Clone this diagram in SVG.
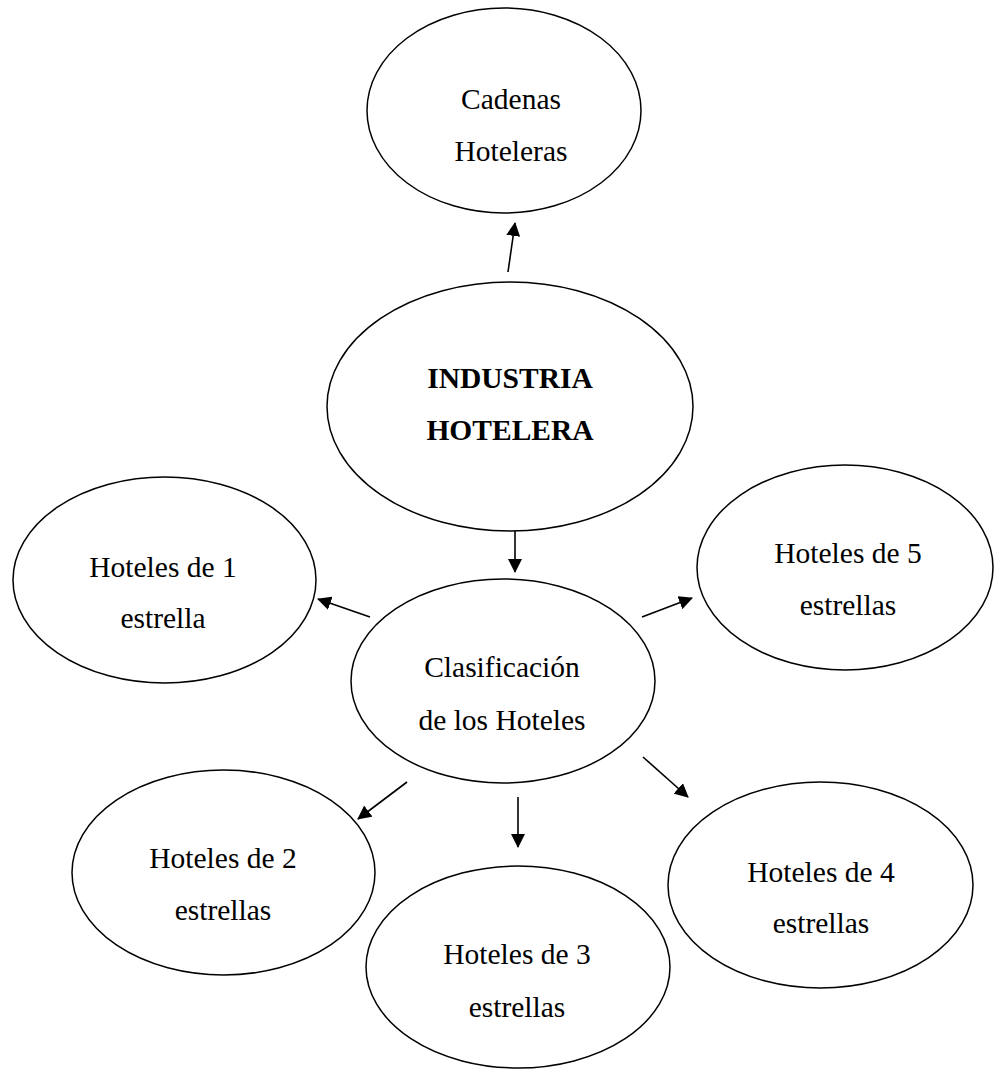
<svg xmlns="http://www.w3.org/2000/svg" width="995" height="1070" viewBox="0 0 995 1070">
  <defs>
    <marker id="arrow" markerUnits="userSpaceOnUse" markerWidth="14" markerHeight="14" refX="13" refY="7" orient="auto">
      <path d="M0,0 L14,7 L0,14 z" fill="#000"/>
    </marker>
    <style>
      .node ellipse { fill: #fff; stroke: #000; stroke-width: 1.5; }
      .node text { font-family: "Liberation Serif", "Times New Roman", serif; font-size: 29.5px; fill: #000; text-anchor: middle; }
      .node text.bold { font-weight: bold; }
      .edges line { stroke: #000; stroke-width: 1.6; marker-end: url(#arrow); }
    </style>
  </defs>
  <rect width="995" height="1070" fill="#fff"/>

  <g id="cadenas" class="node">
    <ellipse cx="504" cy="110.5" rx="137" ry="102.5"/>
    <text x="511" y="109">Cadenas</text>
    <text x="511" y="161">Hoteleras</text>
  </g>

  <g id="industria" class="node">
    <ellipse cx="510" cy="406.5" rx="183" ry="124.5"/>
    <text class="bold" x="510" y="388">INDUSTRIA</text>
    <text class="bold" x="510" y="440">HOTELERA</text>
  </g>

  <g id="hoteles-1" class="node">
    <ellipse cx="164.5" cy="580" rx="151.5" ry="103"/>
    <text x="163" y="577">Hoteles de 1</text>
    <text x="163" y="628">estrella</text>
  </g>

  <g id="hoteles-5" class="node">
    <ellipse cx="845" cy="567.5" rx="148" ry="102.5"/>
    <text x="848" y="563">Hoteles de 5</text>
    <text x="848" y="615">estrellas</text>
  </g>

  <g id="clasificacion" class="node">
    <ellipse cx="503" cy="681" rx="152" ry="102"/>
    <text x="502" y="677">Clasificación</text>
    <text x="502" y="730">de los Hoteles</text>
  </g>

  <g id="hoteles-2" class="node">
    <ellipse cx="223.5" cy="872.5" rx="151.5" ry="102.5"/>
    <text x="223" y="868">Hoteles de 2</text>
    <text x="223" y="920">estrellas</text>
  </g>

  <g id="hoteles-3" class="node">
    <ellipse cx="518" cy="967" rx="152" ry="101"/>
    <text x="517" y="964">Hoteles de 3</text>
    <text x="517" y="1017">estrellas</text>
  </g>

  <g id="hoteles-4" class="node">
    <ellipse cx="820.5" cy="885" rx="152.5" ry="103"/>
    <text x="821" y="882">Hoteles de 4</text>
    <text x="821" y="933">estrellas</text>
  </g>

  <g id="connectors" class="edges">
    <line x1="508" y1="272" x2="515" y2="223"/>
    <line x1="515" y1="531" x2="515" y2="572"/>
    <line x1="370" y1="617" x2="318" y2="599"/>
    <line x1="642" y1="617" x2="692" y2="598"/>
    <line x1="407" y1="782" x2="358" y2="819"/>
    <line x1="518" y1="797" x2="518" y2="847"/>
    <line x1="643" y1="757" x2="688" y2="797"/>
  </g>
</svg>
